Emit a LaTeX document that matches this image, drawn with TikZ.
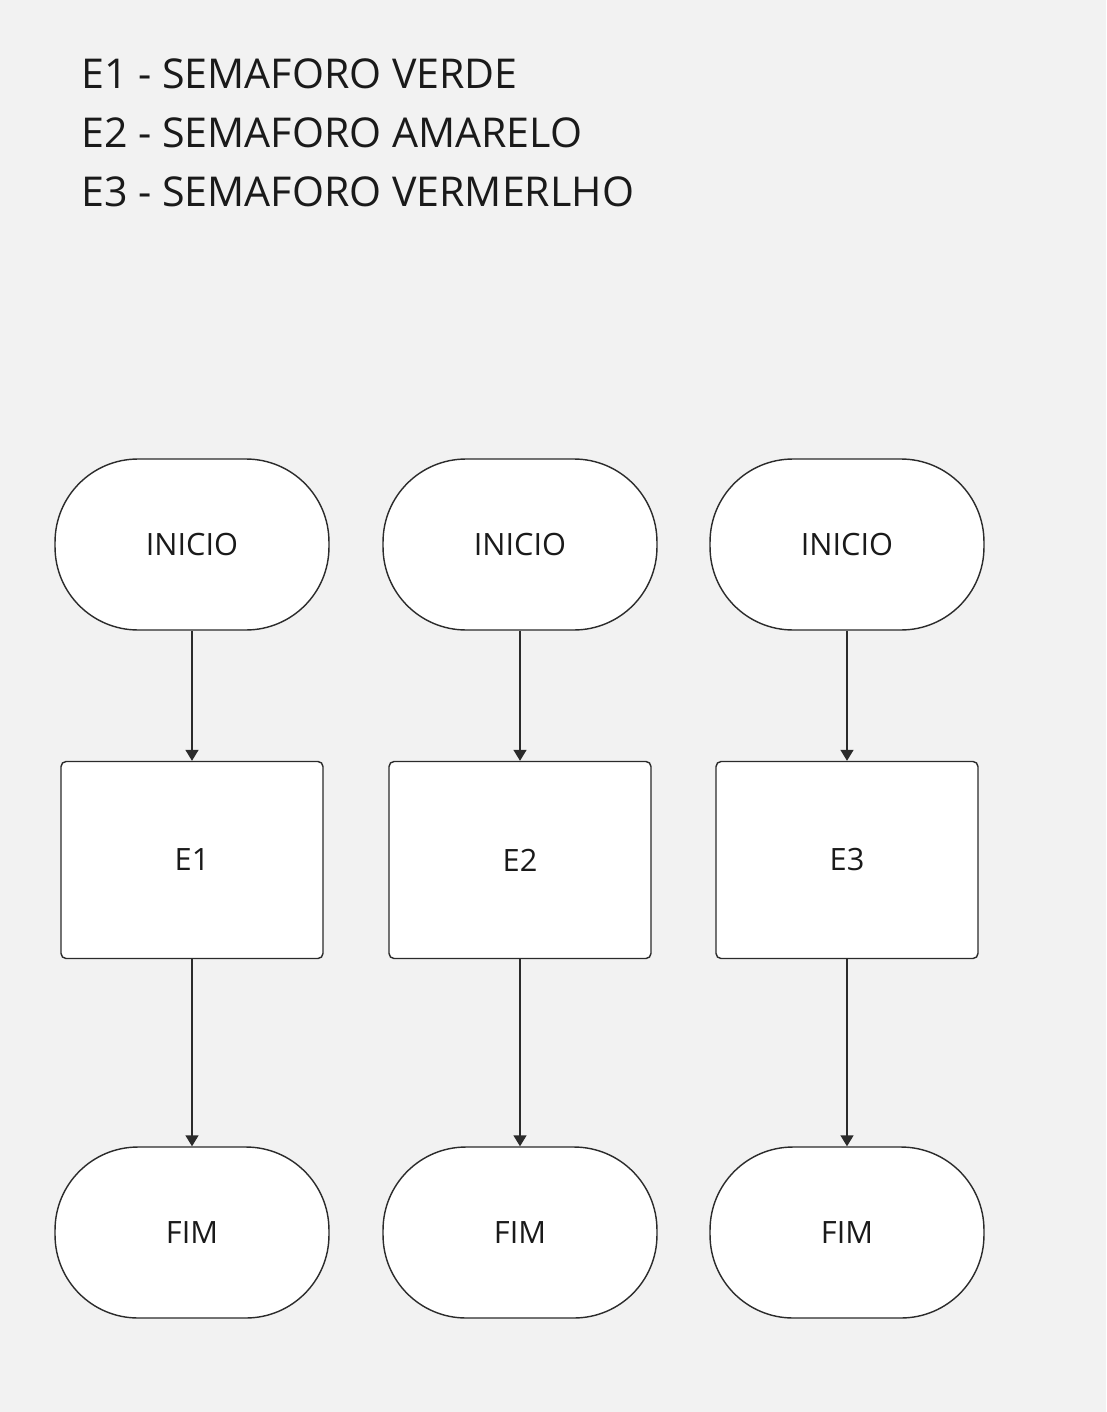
\documentclass[tikz,border=0pt]{standalone}
\usepackage{fontspec}
\setmainfont{Open Sans}
\usetikzlibrary{arrows.meta}
\definecolor{fundo}{HTML}{F2F2F2}
\definecolor{traco}{HTML}{2B2B2B}
\definecolor{texto}{HTML}{1A1A1A}

\begin{document}
\begin{tikzpicture}[x=0.02cm,y=-0.02cm,
  terminal/.style={draw=traco,fill=white,line width=0.8pt,rounded corners=1.66cm,
    minimum width=5.48cm,minimum height=3.42cm,text=texto,
    font=\fontsize{17.5}{21}\selectfont},
  estado/.style={draw=traco,fill=white,line width=0.8pt,rounded corners=0.1cm,
    minimum width=5.24cm,minimum height=3.94cm,text=texto,
    font=\fontsize{17.5}{21}\selectfont},
  legenda/.style={anchor=base west,inner sep=0pt,text=texto,
    font=\fontsize{23.4}{28}\selectfont},
  seta/.style={draw=traco,line width=0.8pt,-{Triangle[length=0.22cm,width=0.26cm]}}]
% fundo
\fill[fundo] (0,0) rectangle (1106,1412);
\useasboundingbox (0,0) rectangle (1106,1412);
% legenda
\node[legenda] (leg1) at (81,89) {E1 - SEMAFORO VERDE};
\node[legenda] (leg2) at (81,148) {E2 - SEMAFORO AMARELO};
\node[legenda] (leg3) at (81,207) {E3 - SEMAFORO VERMERLHO};
% coluna 1
\node[terminal] (ini1) at (192,544.5) {INICIO};
\node[estado] (e1) at (192,860) {E1};
\node[terminal] (fim1) at (192,1232.5) {FIM};
% coluna 2
\node[terminal] (ini2) at (520,544.5) {INICIO};
\node[estado] (e2) at (520,860) {E2};
\node[terminal] (fim2) at (520,1232.5) {FIM};
% coluna 3
\node[terminal] (ini3) at (847,544.5) {INICIO};
\node[estado] (e3) at (847,860) {E3};
\node[terminal] (fim3) at (847,1232.5) {FIM};
% setas
\draw[seta] (ini1) -- (e1);
\draw[seta] (e1) -- (fim1);
\draw[seta] (ini2) -- (e2);
\draw[seta] (e2) -- (fim2);
\draw[seta] (ini3) -- (e3);
\draw[seta] (e3) -- (fim3);
\end{tikzpicture}
\end{document}
